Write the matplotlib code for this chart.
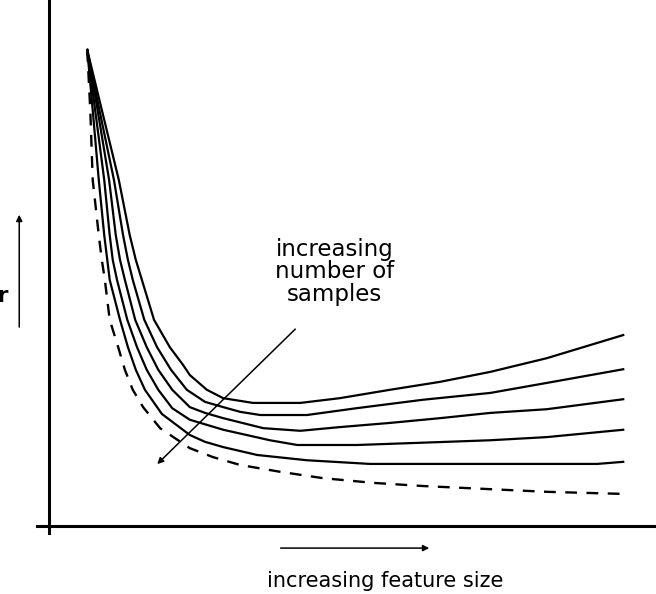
import matplotlib
matplotlib.use("Agg")
import matplotlib.pyplot as plt

# curve values (feature size 0-100, error 0-100)
x_c1 = [6.3, 8.7, 11.5, 13.3, 14.3, 15.3, 17.3, 19.9, 22.1, 23.2, 26.0, 28.7, 33.6, 41.4, 47.9, 56.2, 64.4, 72.7, 82.0, 94.6]
y_c1 = [90.5, 79.1, 65.8, 55.3, 50.6, 46.8, 39.2, 34.0, 30.6, 28.7, 25.9, 24.3, 23.4, 23.4, 24.3, 25.9, 27.4, 29.3, 31.9, 36.3]

x_c2 = [6.3, 8.3, 10.7, 12.2, 13.0, 13.8, 15.7, 17.8, 20.1, 22.7, 25.7, 28.7, 31.5, 34.8, 42.5, 50.7, 61.6, 72.7, 82.0, 94.6]
y_c2 = [90.5, 79.1, 65.8, 55.3, 50.6, 46.8, 39.2, 34.0, 29.7, 25.9, 23.6, 22.6, 21.7, 21.1, 21.1, 22.4, 24.0, 25.3, 27.2, 29.8]

x_c3 = [6.3, 8.0, 9.9, 11.0, 11.7, 12.5, 14.2, 16.1, 18.0, 20.3, 23.2, 25.7, 28.7, 35.3, 41.4, 47.9, 56.2, 64.4, 72.7, 82.0, 94.6]
y_c3 = [90.5, 79.1, 65.8, 55.3, 50.6, 46.8, 39.2, 34.0, 29.7, 25.9, 22.6, 21.5, 20.5, 18.6, 18.1, 18.8, 19.6, 20.5, 21.5, 22.2, 24.1]

x_c4 = [6.3, 7.6, 9.1, 10.0, 10.5, 11.2, 12.9, 14.5, 16.1, 18.0, 20.3, 23.2, 28.7, 36.4, 40.9, 50.7, 60.6, 72.7, 82.0, 94.6]
y_c4 = [90.5, 79.1, 65.8, 55.3, 50.6, 46.8, 39.2, 34.0, 29.7, 25.9, 22.4, 20.2, 18.3, 16.3, 15.4, 15.4, 15.8, 16.3, 16.9, 18.3]

x_c5 = [6.3, 7.2, 8.2, 9.1, 9.6, 10.0, 11.7, 13.0, 14.3, 15.8, 18.6, 23.2, 25.7, 28.7, 34.3, 42.5, 52.9, 72.7, 90.3, 94.6]
y_c5 = [90.5, 79.1, 65.8, 55.3, 50.6, 46.8, 39.2, 34.0, 29.7, 25.9, 21.3, 17.3, 16.0, 15.0, 13.5, 12.5, 11.8, 11.8, 11.8, 12.2]

# dashed limit curve
x_lim = [6.3, 6.8, 7.2, 8.2, 8.7, 9.2, 10.0, 11.4, 12.5, 13.8, 15.5, 18.3, 23.2, 27.0, 31.5, 38.1, 45.1, 53.4, 61.6, 72.7, 82.0, 94.6]
y_lim = [90.5, 79.1, 65.8, 55.3, 50.6, 46.8, 39.2, 34.0, 29.7, 25.9, 22.6, 18.6, 14.8, 13.1, 11.6, 10.3, 9.1, 8.2, 7.6, 7.0, 6.5, 6.1]

solid_curves = [(x_c1, y_c1), (x_c2, y_c2), (x_c3, y_c3), (x_c4, y_c4), (x_c5, y_c5)]

plt.rcParams['font.family'] = ['DejaVu Sans']

fig = plt.figure(figsize=(6.56, 5.94), dpi=100)
ax = fig.add_axes([49 / 656, 68 / 594, 607 / 656, 526 / 594])
ax.set_xlim(0, 100)
ax.set_ylim(0, 100)
ax.axis('off')

for xs, ys in solid_curves:
    ax.plot(xs, ys, color='black', lw=1.6, solid_joinstyle='round')
ax.plot(x_lim, y_lim, color='black', lw=1.7, linestyle=(0, (5, 4)))

# hand drawn axes
ax.plot([0, 0], [-1.3, 100], color='black', lw=2.2, clip_on=False)
ax.plot([-2.0, 100], [0, 0], color='black', lw=2.2, clip_on=False)

arrow = dict(arrowstyle='-|>', color='black', lw=1.1, mutation_scale=9)
ax.annotate('', xy=(17.5, 11.4), xytext=(40.9, 37.8), arrowprops=arrow)
ax.annotate('', xy=(63.1, -4.2), xytext=(37.7, -4.2), arrowprops=arrow,
            annotation_clip=False)
ax.annotate('', xy=(-4.9, 59.7), xytext=(-4.9, 37.3), arrowprops=arrow,
            annotation_clip=False)

ax.text(47.0, 48.3, 'increasing\nnumber of\nsamples', ha='center', va='center',
        fontsize=16.5, linespacing=0.95)
ax.text(55.4, -11.6, 'increasing feature size', ha='center', va='baseline',
        fontsize=15, clip_on=False)
# axis label runs off the left edge in the original sketch
ax.text(-6.75, 42.6, 'error', ha='right', va='baseline', fontsize=16,
        fontweight='bold', clip_on=False)

fig.savefig('out.png', dpi=100, facecolor='white')
